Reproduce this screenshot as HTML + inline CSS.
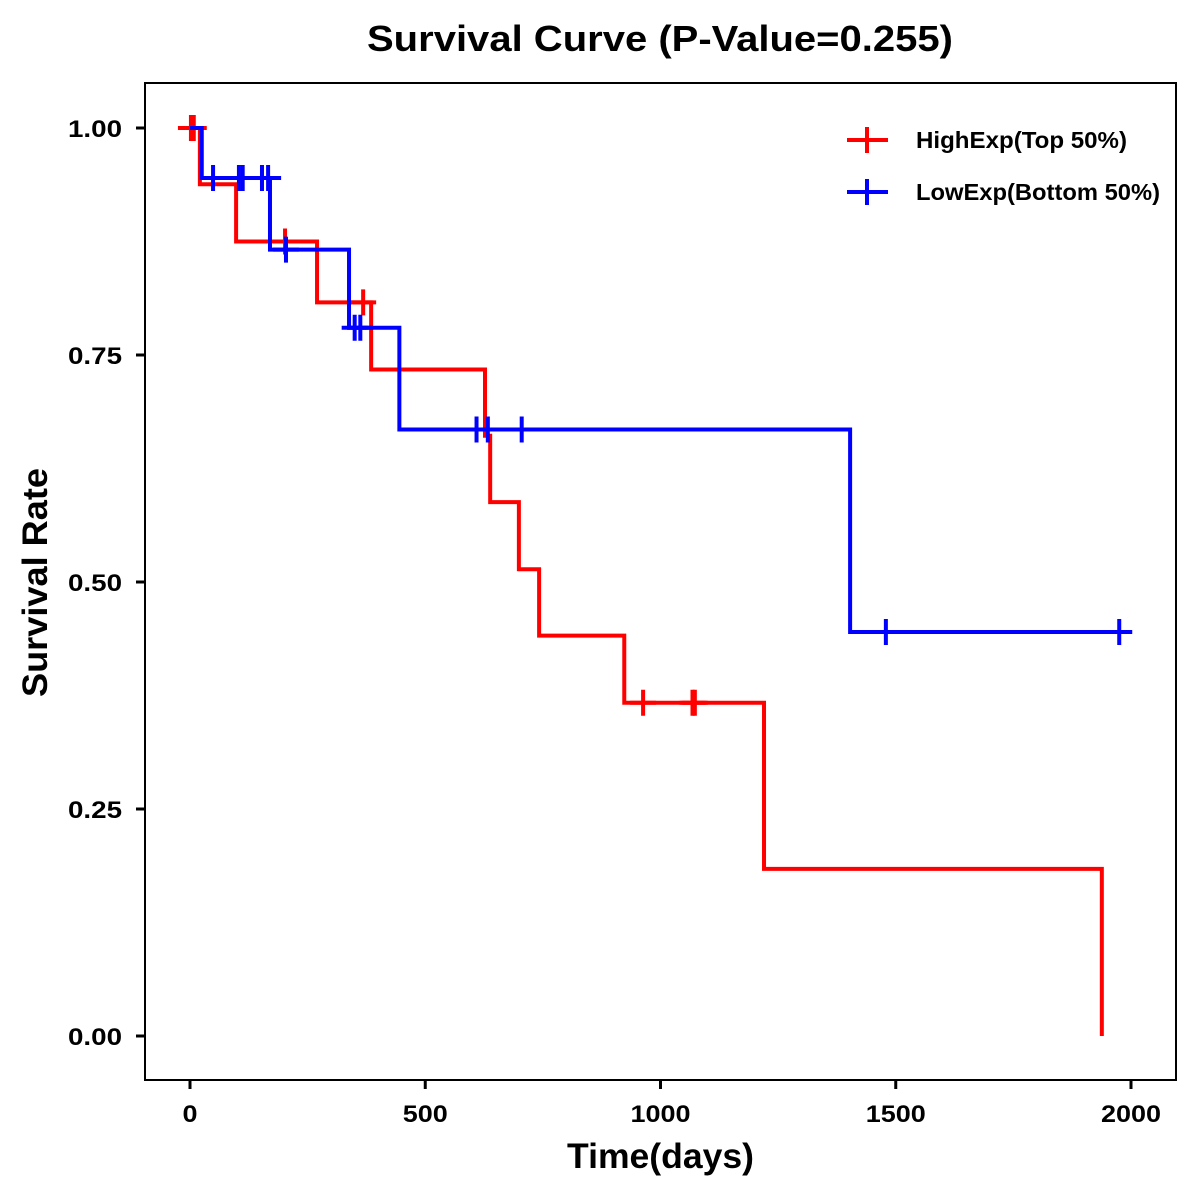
<!DOCTYPE html>
<html><head><meta charset="utf-8">
<style>
html,body{margin:0;padding:0;background:#fff;}
svg{display:block;font-family:"Liberation Sans",Arial,sans-serif;}
</style></head>
<body>
<svg id="chart" width="1200" height="1200" viewBox="0 0 1200 1200">
  <rect width="1200" height="1200" fill="#fff"/>
  <text x="367" y="51" font-size="36" font-weight="bold" textLength="586" lengthAdjust="spacingAndGlyphs">Survival Curve (P-Value=0.255)</text>
  <rect x="145" y="83" width="1031" height="997" fill="none" stroke="#000" stroke-width="2"/>
  <g id="xaxis"></g>
  <g id="yaxis"></g>
  <text x="567" y="1168" font-size="35" font-weight="bold" textLength="187" lengthAdjust="spacingAndGlyphs">Time(days)</text>
  <text transform="translate(47,697) rotate(-90)" font-size="35" font-weight="bold" textLength="229" lengthAdjust="spacingAndGlyphs">Survival Rate</text>
  <g id="series"></g>
  <g>
    <g>
      <line x1="847" y1="140" x2="888" y2="140" stroke="#ff0000" stroke-width="4"/>
      <line x1="867" y1="127" x2="867" y2="153" stroke="#ff0000" stroke-width="4"/>
      <text x="916" y="148" font-size="23" font-weight="bold" textLength="211" lengthAdjust="spacingAndGlyphs">HighExp(Top 50%)</text>
    </g>
    <g>
      <line x1="847" y1="192" x2="888" y2="192" stroke="#0000ff" stroke-width="4"/>
      <line x1="867" y1="179" x2="867" y2="205" stroke="#0000ff" stroke-width="4"/>
      <text x="916" y="200" font-size="23" font-weight="bold" textLength="244" lengthAdjust="spacingAndGlyphs">LowExp(Bottom 50%)</text>
    </g>
  </g>
</svg>
<script>
const xTicks = [0, 500, 1000, 1500, 2000];
const yTicks = [0, 0.25, 0.5, 0.75, 1.0];
const yTickLabels = ["0.00", "0.25", "0.50", "0.75", "1.00"];
const highTimes = [0, 21, 98, 270, 385, 627, 638, 699, 742, 923, 1220, 1938];
const highSurv = [1.0, 0.938, 0.875, 0.808, 0.734, 0.661, 0.588, 0.514, 0.441, 0.367, 0.184, 0.0];
const highCensor = [2, 8, 202, 368, 963, 1068, 1073];
const lowTimes = [0, 25, 170, 338, 445, 1403];
const lowSurv = [1.0, 0.945, 0.866, 0.780, 0.668, 0.445];
const lowCensor = [49, 104, 112, 153, 166, 204, 350, 362, 609, 633, 705, 1479, 1975];
const lowEnd = 1975;
const highEnd = 1938;

const NS = "http://www.w3.org/2000/svg";
function sx(t){ return 190 + t * 0.4705; }
function sy(v){ return 1036 - v * 908; }
function mk(tag, attrs, parent){
  const e = document.createElementNS(NS, tag);
  for (const k in attrs) e.setAttribute(k, attrs[k]);
  parent.appendChild(e);
  return e;
}
function labelWidth(s){
  let w = 0;
  for (const ch of s) w += (ch === ".") ? 9 : 15;
  return w;
}
const xa = document.getElementById("xaxis");
xTicks.forEach(t => {
  const l = mk("line", {x1: sx(t), x2: sx(t), y1: 1080, y2: 1089, stroke: "#000", "stroke-width": 3}, xa);
  
  
  const s = String(t);
  const w = labelWidth(s);
  const tx = mk("text", {x: sx(t) - w / 2, y: 1122, "font-size": 24, "font-weight": "bold", textLength: w, lengthAdjust: "spacingAndGlyphs"}, xa);
  tx.textContent = s;
  
  
});
const ya = document.getElementById("yaxis");
yTicks.forEach((v, i) => {
  const l = mk("line", {x1: 136, x2: 145, y1: sy(v), y2: sy(v), stroke: "#000", "stroke-width": 3}, ya);
  
  
  const s = yTickLabels[i];
  const w = labelWidth(s);
  const tx = mk("text", {x: 122 - w, y: sy(v) + 9, "font-size": 24, "font-weight": "bold", textLength: w, lengthAdjust: "spacingAndGlyphs"}, ya);
  tx.textContent = s;
  
  
});
function survAt(times, surv, t){
  let s = surv[0];
  for (let i = 0; i < times.length; i++) if (times[i] <= t) s = surv[i];
  return s;
}
function drawSeries(times, surv, end, censor, color, name){
  const g = document.getElementById("series");
  let d = "M" + sx(times[0]) + "," + sy(surv[0]);
  for (let i = 1; i < times.length; i++){
    d += " H" + sx(times[i]) + " V" + sy(surv[i]);
  }
  d += " H" + sx(end);
  const p = mk("path", {d: d, fill: "none", stroke: color, "stroke-width": 4}, g);
  
  
  censor.forEach(t => {
    const x = sx(t), y = sy(survAt(times, surv, t));
    const c = mk("path", {d: "M" + (x - 13) + "," + y + " H" + (x + 13) + " M" + x + "," + (y - 13) + " V" + (y + 13), stroke: color, "stroke-width": 4, fill: "none"}, g);
    
    
  });
}
drawSeries(highTimes, highSurv, highEnd, highCensor, "#ff0000", "high-exp");
drawSeries(lowTimes, lowSurv, lowEnd, lowCensor, "#0000ff", "low-exp");
</script>
</body></html>
